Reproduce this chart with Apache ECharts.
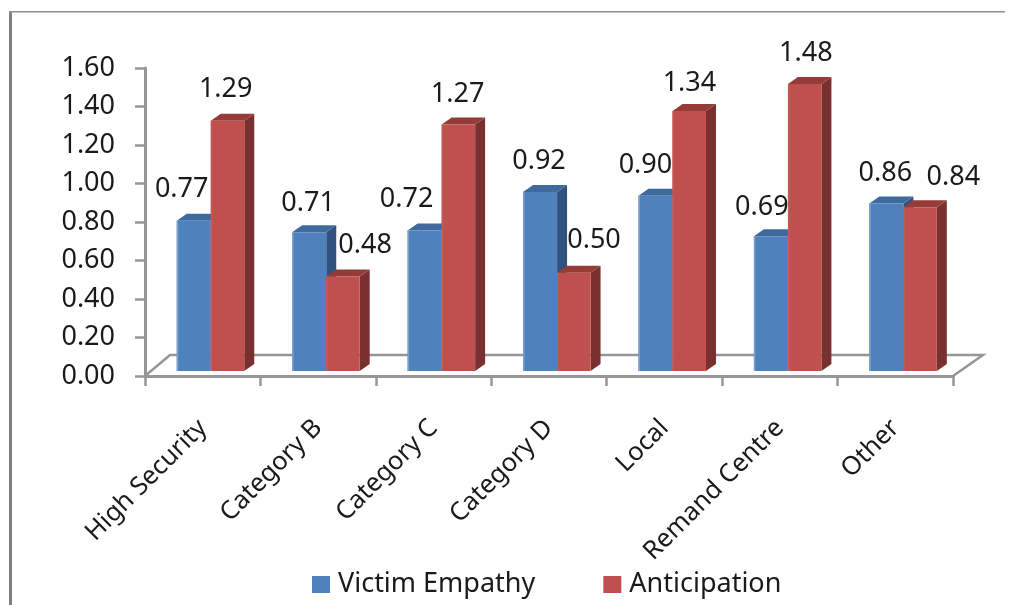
<!DOCTYPE html>
<html>
<head>
<meta charset="utf-8">
<style>html,body{margin:0;padding:0;background:#fff}#c{width:1014px;height:605px}</style>
<script src="https://cdn.jsdelivr.net/npm/echarts@6/dist/echarts.min.js"></script>
</head>
<body>
<div id="c"></div>
<script>
const categories = ['High Security','Category B','Category C','Category D','Local','Remand Centre','Other'];
const victimEmpathy = [0.77,0.71,0.72,0.92,0.90,0.69,0.86];
const anticipation = [1.29,0.48,1.27,0.50,1.34,1.48,0.84];
const yTicks = {min:0,max:1.6,interval:0.2};

// hand-placed label nudges of the original, px from category centre / bar top
const blueLabelDx = [-21,-10,-27,-10,-19,-18,-10];
const redLabelDx = [23,47,24,45,25,26,58];
const blueLabelDy = [-31,-29,-31,-31,-30,-29,-30];
const redLabelDy = [-31,-31,-30,-32,-28,-31,-30];

const FONT = '"Noto Sans"';
const GRAY = '#969696';

function bar3d(cfg){
  return function(params, api){
    const i = api.value(0), v = api.value(1);
    const cw = api.size([1,0])[0];
    const c = api.coord([i,0])[0];
    const x0 = c + cfg.from*cw, x1 = c + cfg.to*cw;
    const yb = api.coord([i,0])[1] - 5;
    const yt = api.coord([i,v])[1] - 7;
    const dx = 10, dy = 7;
    const kids = [
      {type:'polygon',shape:{points:[[x1,yb],[x1,yt],[x1+dx,yt-dy],[x1+dx,yb-dy]]},style:{fill:cfg.side},z2:1},
      {type:'polygon',shape:{points:[[x0,yt],[x0+dx,yt-dy],[x1+dx,yt-dy],[x1,yt]]},style:{fill:cfg.top},z2:1},
      {type:'rect',shape:{x:x0,y:yt,width:x1-x0,height:yb-yt},style:{fill:cfg.face},z2:2},
      {type:'rect',shape:{x:x0,y:yt,width:1.5,height:yb-yt},style:{fill:cfg.edge},z2:3},
      {type:'text',z2:10,style:{text:v.toFixed(2),x:c+cfg.ldx[i],y:yt+cfg.ldy[i],align:'center',verticalAlign:'middle',
        font:'27px '+FONT,fill:'#1a1a1a'}}
    ];
    return {type:'group',children:kids};
  };
}

const chart = echarts.init(document.getElementById('c'),null,{renderer:'canvas'});
chart.setOption({
  animation:false,
  backgroundColor:'#fff',
  grid:{left:145,top:68,width:808,height:308,containLabel:false},
  legend:{
    bottom:2,left:307,itemWidth:18,itemHeight:17,itemGap:68,icon:'rect',
    textStyle:{fontFamily:FONT,fontSize:27,color:'#1a1a1a',padding:[0,0,0,3]},
    data:['Victim Empathy','Anticipation']
  },
  xAxis:{
    type:'category',data:categories,boundaryGap:true,
    axisLine:{lineStyle:{color:GRAY,width:3}},
    axisTick:{show:true,alignWithLabel:false,length:10,lineStyle:{color:GRAY,width:2.5}},
    axisLabel:{rotate:45,fontFamily:FONT,fontSize:25.5,color:'#1a1a1a',margin:48,interval:0},
    splitLine:{show:false}
  },
  yAxis:{
    type:'value',min:yTicks.min,max:yTicks.max,interval:yTicks.interval,
    axisLine:{show:true,lineStyle:{color:GRAY,width:3}},
    axisTick:{show:true,length:10,lineStyle:{color:GRAY,width:2.5}},
    axisLabel:{fontFamily:FONT,fontSize:27,color:'#1a1a1a',margin:30,formatter:v=>v.toFixed(2)},
    splitLine:{show:false}
  },
  graphic:[
    {type:'rect',z:0,shape:{x:9,y:11,width:3,height:594},style:{fill:'#808080'}},
    {type:'rect',z:0,shape:{x:9,y:11,width:996,height:1.5},style:{fill:'#909090'}},
    {type:'polyline',z:0,shape:{points:[[145,376],[170,355],[983,355],[953,376]]},
      style:{stroke:GRAY,lineWidth:2.5,fill:null}}
  ],
  series:[
    {name:'Victim Empathy',type:'custom',clip:false,itemStyle:{color:'#4F81BD'},
     encode:{x:0,y:1},data:victimEmpathy.map((v,i)=>[i,v]),
     renderItem:bar3d({from:-0.225,to:0.07,face:'#4F81BD',top:'#3F6A9E',side:'#31527F',edge:'#7BA0CE',ldx:blueLabelDx,ldy:blueLabelDy})},
    {name:'Anticipation',type:'custom',clip:false,itemStyle:{color:'#C0504D'},
     encode:{x:0,y:1},data:anticipation.map((v,i)=>[i,v]),
     renderItem:bar3d({from:0.07,to:0.36,face:'#C0504D',top:'#953C39',side:'#7A302E',edge:'#C65A57',ldx:redLabelDx,ldy:redLabelDy})}
  ]
});
</script>
</body>
</html>
